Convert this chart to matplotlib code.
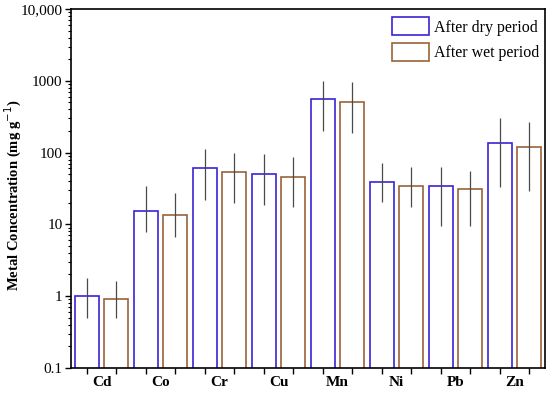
import matplotlib
matplotlib.use("Agg")
import matplotlib.pyplot as plt
import numpy as np
from matplotlib.ticker import FixedLocator, LogLocator, NullFormatter

plt.rcParams['font.family'] = ['Liberation Serif', 'DejaVu Serif']

metals = ["Cd", "Co", "Cr", "Cu", "Mn", "Ni", "Pb", "Zn"]
dry = [1.0, 15.5, 60, 50, 550, 39, 34.5, 134]
dry_low = [0.5, 7.8, 22, 18.3, 200, 20.3, 9.5, 33]
dry_high = [1.8, 34, 112, 94, 980, 72, 62, 305]
wet = [0.9, 13.4, 53, 46, 505, 34, 30.8, 118]
wet_low = [0.5, 6.6, 19.6, 17.6, 185, 17.3, 9.5, 29]
wet_high = [1.6, 27.6, 100, 86, 955, 62, 56, 268]
ytick_vals = [0.1, 1, 10, 100, 1000, 10000]
ytick_labels = ["0.1", "1", "10", "100", "1000", "10,000"]

fig = plt.figure(figsize=(5.5, 3.93), dpi=100)
ax = fig.add_axes([0.129, 0.064, 0.862, 0.913])

x = np.arange(len(metals))
w = 0.405
off = 0.25
dry_c = "#3a22d8"
wet_c = "#9a6238"
err_c = "#4a4a4a"

ax.bar(x - off, dry, width=w, bottom=0, fill=False, edgecolor=dry_c, linewidth=1.2,
       label="After dry period", zorder=2)
ax.bar(x + off, wet, width=w, bottom=0, fill=False, edgecolor=wet_c, linewidth=1.2,
       label="After wet period", zorder=2)

dry_arr = np.array(dry); wet_arr = np.array(wet)
ax.errorbar(x - off, dry, yerr=[dry_arr - np.array(dry_low), np.array(dry_high) - dry_arr],
            fmt='none', ecolor=err_c, elinewidth=0.9, capsize=0, zorder=3)
ax.errorbar(x + off, wet, yerr=[wet_arr - np.array(wet_low), np.array(wet_high) - wet_arr],
            fmt='none', ecolor=err_c, elinewidth=0.9, capsize=0, zorder=3)

ax.set_yscale('log')
ax.set_ylim(0.1, 10000)
ax.set_xlim(-0.52, 7.52)
ax.yaxis.set_major_locator(FixedLocator(ytick_vals))
ax.set_yticklabels(ytick_labels, fontsize=11)
ax.yaxis.set_minor_locator(LogLocator(base=10, subs=np.arange(2, 10)))
ax.yaxis.set_minor_formatter(NullFormatter())
ax.tick_params(axis='y', which='major', direction='out', length=4, width=1, pad=2)
ax.tick_params(axis='y', which='minor', direction='out', length=2, width=0.8)

bar_pos = np.sort(np.concatenate([x - off, x + off]))
ax.set_xticks(bar_pos)
ax.set_xticklabels([])
ax.set_xticks(x, minor=True)
ax.set_xticklabels(metals, minor=True, fontsize=11, fontweight='bold')
ax.tick_params(axis='x', which='major', direction='out', length=4, width=1)
ax.tick_params(axis='x', which='minor', length=0, pad=6)

for s in ax.spines.values():
    s.set_linewidth(1.2)

ax.set_ylabel("Metal Concentration (mg g$^{-1}$)", fontsize=10.5, fontweight='bold')
ax.yaxis.set_label_coords(-0.1, 0.48)

leg = ax.legend(loc='upper right', bbox_to_anchor=(1.005, 1.0), frameon=False,
                fontsize=11.5, handlelength=2.3, handleheight=1.4, labelspacing=0.45,
                handletextpad=0.35, borderaxespad=0.1)

fig.savefig("out.png", dpi=100)
